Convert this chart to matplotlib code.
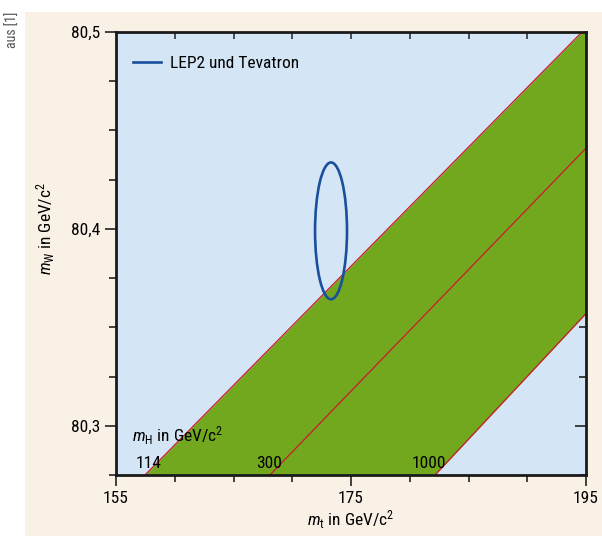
import matplotlib
matplotlib.use("Agg")
import matplotlib.pyplot as plt
from matplotlib.patches import Ellipse, Rectangle
from matplotlib import font_manager as fm
import numpy as np

# pick a condensed font if available
cands = ['Liberation Sans Narrow', 'DejaVu Sans Condensed', 'Roboto Condensed', 'Open Sans Condensed']
avail = {f.name for f in fm.fontManager.ttflist}
family = None
for c in cands:
    if c in avail:
        family = c
        break
stretch = 'normal'
if family is None:
    cond = [f for f in fm.fontManager.ttflist if f.stretch in ('condensed', 'semi-condensed', 'extra-condensed')]
    if cond:
        family = cond[0].name
        stretch = cond[0].stretch
    else:
        family = 'DejaVu Sans'
plt.rcParams['font.family'] = [family, 'DejaVu Sans']
plt.rcParams['font.stretch'] = stretch
plt.rcParams['mathtext.fontset'] = 'custom'
plt.rcParams['mathtext.rm'] = family
plt.rcParams['mathtext.it'] = family + ':italic'

# Data
xlim = (155, 195)
ylim = (80.275, 80.5)
x_major = [155, 175, 195]
y_major = [80.3, 80.4, 80.5]
y_major_labels = ["80,3", "80,4", "80,5"]
# Higgs mass lines: (mt, mW) at bottom edge and at right/top edge
higgs_labels = ["114", "300", "1000"]
higgs_mt0 = [157.47, 168.1, 182.15]
higgs_mt1 = [194.66, 195.0, 195.0]
higgs_mW1 = [80.5, 80.441, 80.357]
higgs_label_mt = [157.75, 169.1, 183.1]
# LEP2 + Tevatron ellipse
ell_mt, ell_mW = 173.3, 80.399
ell_wmt, ell_hmW = 2.72, 0.0695

BG = '#f9f0e6'
BLUE_BG = '#d4e5f5'
GREEN = '#72a81e'
RED = '#cc1a2e'
DARKBLUE = '#1a4f9c'

fig = plt.figure(figsize=(6.02, 5.36), dpi=100)
fig.patch.set_facecolor('white')
fig.patches.append(Rectangle((25/602, 0), 1 - 25/602, 1 - 12/536, transform=fig.transFigure,
                             facecolor=BG, edgecolor='none', zorder=-10))
fig.text(13/602, 1 - 30/536, "aus [1]", rotation=90, ha='center', va='center',
         fontsize=10, color='#555555')

ax = fig.add_axes([116/602, 1 - 475/536, 470/602, 443/536])
ax.set_facecolor(BLUE_BG)
ax.set_xlim(*xlim)
ax.set_ylim(*ylim)

def line_y(i, x):
    x0, y0 = higgs_mt0[i], ylim[0]
    x1, y1 = higgs_mt1[i], higgs_mW1[i]
    return y0 + (x - x0) * (y1 - y0) / (x1 - x0)

# right/top inward ticks (drawn below the green band)
for k, yt in enumerate(np.arange(80.275, 80.501, 0.025)):
    L = 0.024 if k % 4 == 1 else 0.014
    ax.plot([1 - L, 1], [yt, yt], color='#222222', lw=1.2, transform=ax.get_yaxis_transform(),
            zorder=0.5, solid_capstyle='butt')
for xt in np.arange(155, 196, 5):
    ax.plot([xt, xt], [1 - 0.015, 1], color='#333333', lw=1.2, transform=ax.get_xaxis_transform(),
            zorder=0.5, solid_capstyle='butt')

xs = np.linspace(xlim[0], xlim[1], 400)
yl = np.clip(line_y(0, xs), ylim[0], ylim[1] + 0.01)
yh = np.clip(line_y(2, xs), ylim[0], ylim[1] + 0.01)
ax.fill_between(xs, yh, yl, where=yl > ylim[0], color=GREEN, lw=0, zorder=1)
for i in range(3):
    ax.plot([higgs_mt0[i], higgs_mt1[i]], [ylim[0], higgs_mW1[i]], color=RED, lw=0.9, zorder=2)

ell = Ellipse((ell_mt, ell_mW), ell_wmt, ell_hmW, fill=False, edgecolor=DARKBLUE, lw=1.9, zorder=3)
ax.add_patch(ell)
ax.plot([], [], color=DARKBLUE, lw=1.9, label="LEP2 und Tevatron")
leg = ax.legend(loc='upper left', frameon=False, fontsize=12.5, handlelength=1.6,
                bbox_to_anchor=(0.0, 0.985), borderaxespad=0.6, handletextpad=0.5)

ax.text(0.035, 80.3 - 0.005, r'$m_\mathrm{H}$ in GeV/c$^2$', fontsize=12.5, ha='left', va='center', zorder=4,
        transform=ax.get_yaxis_transform())
ax.text(higgs_label_mt[0], 80.2806, higgs_labels[0], fontsize=12.5, ha='center', va='center', zorder=4)
ax.text(higgs_label_mt[1], 80.2806, higgs_labels[1], fontsize=12.5, ha='right', va='center', zorder=4)
ax.text(higgs_label_mt[2], 80.2806, higgs_labels[2], fontsize=12.5, ha='right', va='center', zorder=4)

ax.set_xticks(x_major)
ax.set_xticklabels([str(v) for v in x_major], fontsize=12.5)
ax.set_xticks(np.arange(155, 196, 5), minor=True)
ax.set_yticks(y_major)
ax.set_yticklabels(y_major_labels, fontsize=12.5)
ax.set_yticks(np.arange(80.275, 80.501, 0.025), minor=True)
ax.tick_params(which='major', direction='out', length=8, width=1.2, color='#222222')
ax.tick_params(which='minor', direction='out', length=5, width=1.2, color='#222222')
for s in ax.spines.values():
    s.set_linewidth(2)
    s.set_color('#1a1a1a')
    s.set_zorder(5)

ax.set_xlabel(r'$m_\mathrm{t}$ in GeV/c$^2$', fontsize=12.5, labelpad=2)
ax.set_ylabel(r'$m_\mathrm{W}$ in GeV/c$^2$', fontsize=12.5)
ax.yaxis.set_label_coords(-0.125, (475 - 228) / 443)

fig.savefig('out.png', dpi=100, facecolor=fig.get_facecolor())
